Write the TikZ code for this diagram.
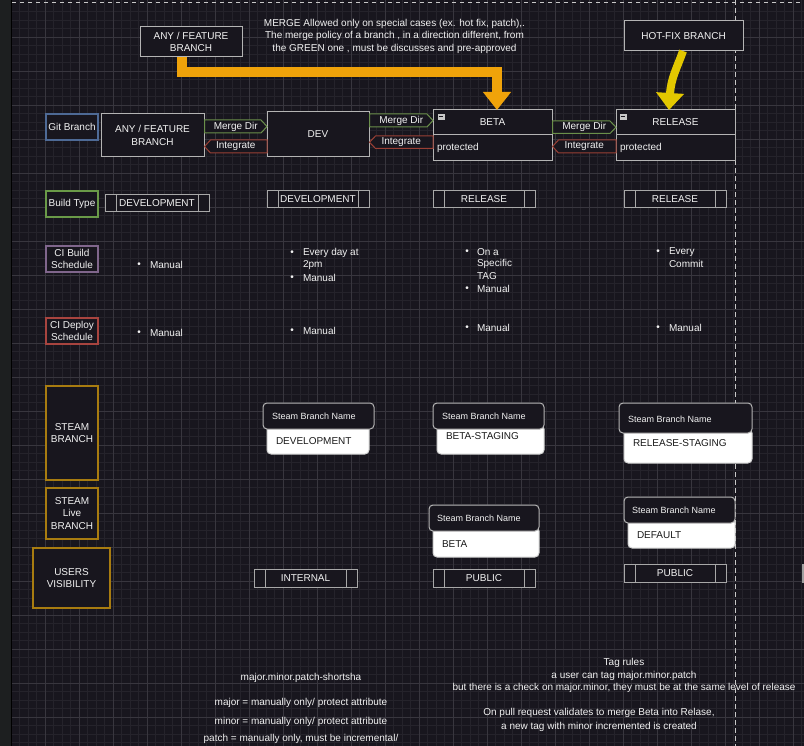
\documentclass[tikz,border=0pt]{standalone}
\usepackage{fontspec}
\setmainfont{Liberation Sans}
\usetikzlibrary{arrows.meta,calc}
\definecolor{bg}{HTML}{18161E}
\definecolor{strip}{HTML}{1D1F20}
\definecolor{gridminor}{HTML}{25232B}
\definecolor{gridmajor}{HTML}{38363E}
\definecolor{boxgray}{HTML}{B4B4B4}
\definecolor{procgray}{HTML}{A8A8A8}
\definecolor{txt}{HTML}{F2F2F2}
\definecolor{blueb}{HTML}{4E6A96}
\definecolor{greenb}{HTML}{6A9A48}
\definecolor{purpleb}{HTML}{80668C}
\definecolor{redb}{HTML}{A8443F}
\definecolor{goldb}{HTML}{A87C10}
\definecolor{mergeg}{HTML}{6A8F4A}
\definecolor{integr}{HTML}{9A4035}
\definecolor{orangeA}{HTML}{F0A30A}
\definecolor{yellowA}{HTML}{E3C800}
\definecolor{dashc}{HTML}{C8C8C8}
\definecolor{bodytxt}{HTML}{1A1A1A}
\definecolor{bodyedge}{HTML}{D0D0D0}
\definecolor{icong}{HTML}{C8C8C8}
\definecolor{edgetab}{HTML}{A0A0A0}
\newcommand{\bx}[7]{\node[#6, minimum width={(#4)-(#2)}, minimum height={(#5)-(#3)}] (#1) at ({((#2)+(#4))/2},{((#3)+(#5))/2}) {#7};}
% right-pointing tag: name, x1, y1, x2, y2, colour, text
\newcommand{\tagR}[7]{\bx{#1}{#2}{#3}{#4}{#5}{}{}
  \filldraw[fill=bg, draw=#6, line width=1pt, line join=miter] (#1.north west) -- ([xshift=-6pt]#1.north east) -- (#1.east) -- ([xshift=-6pt]#1.south east) -- (#1.south west) -- cycle;
  \node (#1t) at (#1.center) {#7};}
\newcommand{\tagL}[7]{\bx{#1}{#2}{#3}{#4}{#5}{}{}
  \filldraw[fill=bg, draw=#6, line width=1pt, line join=miter] (#1.north east) -- ([xshift=6pt]#1.north west) -- (#1.west) -- ([xshift=6pt]#1.south west) -- (#1.south east) -- cycle;
  \node (#1t) at (#1.center) {#7};}
\begin{document}
\begin{tikzpicture}[x=1pt,y=-1pt,
  every node/.style={inner sep=0pt, outer sep=0pt, text=txt, font=\fontsize{10}{12.5}\selectfont},
  box/.style={draw=boxgray, fill=bg, line width=1pt, align=center},
  lbl/.style={fill=bg, line width=1.2pt, align=center},
  proc/.style={draw=procgray, fill=bg, line width=1pt, path picture={\draw[procgray, line width=1pt] ([xshift=11pt]path picture bounding box.north west) -- ([xshift=11pt]path picture bounding box.south west) ([xshift=-11pt]path picture bounding box.north east) -- ([xshift=-11pt]path picture bounding box.south east);}},
  hdr/.style={draw=boxgray, fill=bg, line width=1pt, rounded corners=4pt},
  bodyb/.style={draw=bodyedge, fill=white, line width=1pt, rounded corners=4pt},
  htxt/.style={anchor=west, font=\fontsize{9}{11}\selectfont},
  btxt/.style={anchor=west, text=bodytxt},
  bul/.style={anchor=center},
  itm/.style={anchor=west},
  note/.style={align=center},
]
\useasboundingbox (0,0) rectangle (804,746);
\fill[bg] (0,0) rectangle (804,746);
\fill[strip] (0,0) rectangle (11,746);
% grid
\foreach \i in {1,...,93} \draw[gridminor, line width=0.6pt] ({11+8.5*\i},0) -- ({11+8.5*\i},746);
\foreach \j in {1,...,87} \draw[gridminor, line width=0.6pt] (11,{3+8.5*\j}) -- (804,{3+8.5*\j});
\foreach \i in {1,...,23} \draw[gridmajor, line width=0.8pt] ({11+34*\i},0) -- ({11+34*\i},746);
\foreach \j in {1,...,21} \draw[gridmajor, line width=0.8pt] (11,{3+34*\j}) -- (804,{3+34*\j});
\draw[black, line width=1.2pt] (11.5,0) -- (11.5,746);
\draw[dashc, line width=1pt, dash pattern=on 4pt off 4pt] (12,3) -- (804,3);
\draw[dashc, line width=1pt, dash pattern=on 5pt off 3pt] (735,0) -- (735,746);

% top
\bx{anytop}{140}{27}{242}{57}{box}{ANY / FEATURE\\BRANCH}
\bx{hotfix}{624}{21}{743}{51}{box}{HOT-FIX BRANCH}
\node[note] (mergenote) at (394.5,36) {MERGE Allowed only on special cases (ex. hot fix, patch),.\\The merge policy of a branch , in a direction different, from\\the GREEN one , must be discusses and pre-approved};

% row 1
\bx{gitlbl}{46}{114}{98}{140}{lbl, draw=blueb}{Git Branch}
\bx{anyf}{101}{114}{204}{157}{box}{ANY / FEATURE\\BRANCH}
\bx{dev}{267}{112}{369}{157}{box}{DEV}
\bx{beta}{433}{110}{552}{161}{box}{}
\draw[boxgray, line width=1pt] ($(beta.north west)+(0,25)$) -- ($(beta.north east)+(0,25)$);
\node (betat) at (492.5,122.5) {BETA};
\node[anchor=west] (betap) at (437,148) {protected};
\node[fill=icong, minimum width=7pt, minimum height=6.5pt] (betai) at (441,117) {};
\draw[bg, line width=1pt] ($(betai.west)+(1.2,0)$) -- ($(betai.east)+(-1.2,0)$);
\bx{rel}{616}{110}{735}{161}{box}{}
\draw[boxgray, line width=1pt] ($(rel.north west)+(0,25)$) -- ($(rel.north east)+(0,25)$);
\node (relt) at (675.5,122.5) {RELEASE};
\node[anchor=west] (relp) at (620,148) {protected};
\node[fill=icong, minimum width=7pt, minimum height=6.5pt] (reli) at (623,117) {};
\draw[bg, line width=1pt] ($(reli.west)+(1.2,0)$) -- ($(reli.east)+(-1.2,0)$);

\tagR{md1}{204.5}{120}{267}{133}{mergeg}{Merge Dir}
\tagL{ig1}{204.5}{140}{267}{153}{integr}{Integrate}
\tagR{md2}{369.5}{114}{433}{127}{mergeg}{Merge Dir}
\tagL{ig2}{369.5}{136}{433}{148.5}{integr}{Integrate}
\tagR{md3}{552.5}{121}{616}{133.5}{mergeg}{Merge Dir}
\tagL{ig3}{552.5}{140}{616}{153}{integr}{Integrate}

% big arrows
\draw[orangeA, line width=10pt, -{Triangle[length=18pt,width=27pt]}] ([xshift=-9pt]anytop.south) -- ++(0,15) -| ([xshift=4.5pt]beta.north);
\draw[yellowA, line width=8pt, -{Triangle[length=17pt,width=27pt]}] ([xshift=-0.5pt]hotfix.south) .. controls (677,68) and (671,78) .. ([xshift=-6.5pt]rel.north);

% row 2
\bx{btlbl}{46}{191}{98}{217}{lbl, draw=greenb}{Build Type}
\bx{bt1}{105}{195}{209}{212}{proc}{DEVELOPMENT}
\bx{bt2}{267}{191}{369}{208}{proc}{DEVELOPMENT}
\bx{bt3}{433}{191}{535}{208}{proc}{RELEASE}
\bx{bt4}{624}{191}{726}{208}{proc}{RELEASE}

% row 3
\bx{cib}{46}{246}{98}{272}{lbl, draw=purpleb}{CI Build\\Schedule}
\node[bul] (b1a) at (139,265) {•}; \node[itm] (t1a) at (150,265) {Manual};
\node[bul] (b2a) at (292,253) {•}; \node[itm] (t2a) at (303,253) {Every day at};
\node[itm] (t2b) at (303,265.5) {2pm};
\node[bul] (b2c) at (292,278) {•}; \node[itm] (t2c) at (303,278) {Manual};
\node[bul] (b3a) at (467,252) {•}; \node[itm] (t3a) at (477,252) {On a};
\node[itm] (t3b) at (477,264) {Specific};
\node[itm] (t3c) at (477,276) {TAG};
\node[bul] (b3d) at (467,289) {•}; \node[itm] (t3d) at (477,289) {Manual};
\node[bul] (b4a) at (658,252) {•}; \node[itm] (t4a) at (669,252) {Every};
\node[itm] (t4b) at (669,264) {Commit};

% row 4
\bx{cid}{46}{318}{98}{344}{lbl, draw=redb}{CI Deploy\\Schedule}
\node[bul] (b5) at (139,333) {•}; \node[itm] (t5) at (150,333) {Manual};
\node[bul] (b6) at (292,331) {•}; \node[itm] (t6) at (303,331) {Manual};
\node[bul] (b7) at (467,328) {•}; \node[itm] (t7) at (477,328) {Manual};
\node[bul] (b8) at (658,328) {•}; \node[itm] (t8) at (669,328) {Manual};

% row 5
\bx{stb}{46}{386}{98}{480}{lbl, draw=goldb}{STEAM\\BRANCH}
\bx{stl}{46}{488}{98}{539}{lbl, draw=goldb}{STEAM\\Live\\BRANCH}
\bx{usv}{33}{548}{110}{608}{lbl, draw=goldb, line width=1.5pt}{USERS\\VISIBILITY}

\bx{sdevb}{267}{425}{369}{454}{bodyb}{}
\bx{sdevh}{263}{403}{374}{429}{hdr}{}
\node[htxt] (sdevht) at (272,416) {Steam Branch Name};
\node[btxt] (sdevbt) at (276,441.5) {DEVELOPMENT};

\bx{sbsb}{437}{425}{544}{454}{bodyb}{}
\bx{sbsh}{433}{403}{544}{429}{hdr}{}
\node[htxt] (sbsht) at (442,416) {Steam Branch Name};
\node[btxt] (sbsbt) at (446,436) {BETA-STAGING};

\bx{srsb}{624}{429}{752}{463}{bodyb}{}
\bx{srsh}{619}{403}{752}{433}{hdr}{}
\node[htxt] (srsht) at (628,419) {Steam Branch Name};
\node[btxt] (srsbt) at (633,443) {RELEASE-STAGING};

\bx{slbb}{433}{527}{539}{557}{bodyb}{}
\bx{slbh}{429}{505}{539}{531}{hdr}{}
\node[htxt] (slbht) at (437,518) {Steam Branch Name};
\node[btxt] (slbbt) at (442,544) {BETA};

\bx{sldb}{628}{519}{735}{548}{bodyb}{}
\bx{sldh}{624}{497}{735}{523}{hdr}{}
\node[htxt] (sldht) at (632,510) {Steam Branch Name};
\node[btxt] (sldbt) at (637,535) {DEFAULT};

% row 6
\bx{vis1}{254}{569}{357}{587}{proc}{INTERNAL}
\bx{vis2}{433}{569}{535}{587}{proc}{PUBLIC}
\bx{vis3}{624}{564}{726}{582}{proc}{PUBLIC}
\bx{edgetabn}{802}{564}{806}{583}{fill=edgetab}{}

% bottom notes
\node (n1) at (301,678) {major.minor.patch-shortsha};
\node (n2) at (301,703) {major = manually only/ protect attribute};
\node (n3) at (301,722) {minor = manually only/ protect attribute};
\node (n4) at (301,739) {patch = manually only, must be incremental/};
\node (r1) at (624,663) {Tag rules};
\node (r2) at (624,675.5) {a user can tag major.minor.patch};
\node (r3) at (624,688) {but there is a check on major.minor, they must be at the same level of release};
\node (r4) at (599,713) {On pull request validates to merge Beta into Relase,};
\node (r5) at (599,727) {a new tag with minor incremented is created};
\end{tikzpicture}
\end{document}
